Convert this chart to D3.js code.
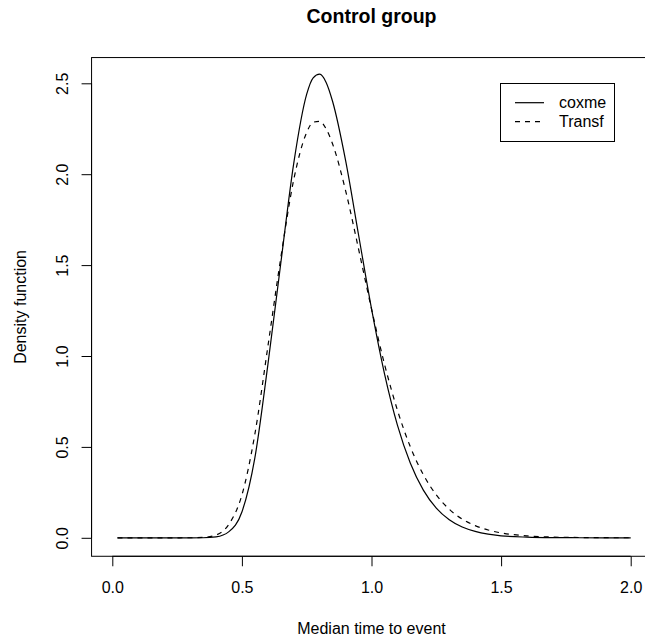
<!DOCTYPE html>
<html lang="en">
<head>
	<meta charset="UTF-8">
	<title>Control group</title>
	<script src="https://cdn.jsdelivr.net/npm/d3@7/dist/d3.min.js"></script>
	<style>
		body { margin: 0; background: #fff; }
		svg { display: block; }
		text { font-family: "Liberation Sans", Arial, Helvetica, sans-serif; fill: #000; }
	</style>
</head>
<body>
	<div id="container"></div>
	<script>
		// data
		var xGrid  = [0.02, 0.1, 0.2, 0.3, 0.35, 0.4, 0.45, 0.5, 0.55, 0.6, 0.65, 0.7, 0.75, 0.775, 0.8, 0.825, 0.85, 0.9, 0.95, 1.0, 1.05, 1.1, 1.15, 1.2, 1.25, 1.3, 1.35, 1.4, 1.45, 1.5, 1.6, 1.7, 1.8, 1.9, 2.0];
		var coxme  = [0, 0, 0, 0, 0.0004, 0.005, 0.034, 0.142, 0.44, 0.95, 1.51, 2.06, 2.44, 2.53, 2.55, 2.505, 2.40, 2.076, 1.667, 1.26, 0.903, 0.62, 0.41, 0.262, 0.163, 0.099, 0.059, 0.035, 0.02, 0.011, 0.0036, 0.001, 0.0003, 0, 0];
		var transf = [0, 0, 0, 0.0003, 0.002, 0.015, 0.075, 0.235, 0.57, 1.05, 1.54, 1.97, 2.23, 2.286, 2.291, 2.249, 2.166, 1.91, 1.589, 1.259, 0.956, 0.702, 0.50, 0.347, 0.236, 0.157, 0.103, 0.067, 0.043, 0.027, 0.0105, 0.004, 0.0015, 0.0005, 0.0002];
		var seriesNames = ["coxme", "Transf"];
		var xTicks = [0, 0.5, 1.0, 1.5, 2.0];
		var yTicks = [0, 0.5, 1.0, 1.5, 2.0, 2.5];

		var width = 645, height = 638;
		var svg = d3.select("#container").append("svg")
				.attr("width", width)
				.attr("height", height);

		var x = d3.scaleLinear().domain([0, 2]).range([112.3, 630.7]);
		var y = d3.scaleLinear().domain([0, 2.5]).range([537.8, 83.3]);

		// R style 4% padding around the data range
		var xLo = -0.08, xHi = 2.08, yLo = -0.1016, yHi = 2.6416;

		// plot box
		svg.append("rect")
				.attr("x", x(xLo))
				.attr("y", y(yHi))
				.attr("width", x(xHi) - x(xLo))
				.attr("height", y(yLo) - y(yHi))
				.attr("fill", "none")
				.attr("stroke", "#000")
				.attr("stroke-width", 1);

		// x axis
		var xAxis = svg.append("g")
				.attr("transform", "translate(0," + y(yLo) + ")")
				.call(d3.axisBottom(x).tickValues(xTicks).tickFormat(d3.format(".1f")).tickSizeOuter(0).tickSizeInner(10).tickPadding(15));
		xAxis.select(".domain").attr("d", "M" + x(0) + ",0H" + x(2)).attr("stroke", "#000");
		xAxis.selectAll("text").attr("font-size", 16);
		xAxis.attr("font-family", null);

		// y axis, labels rotated like R
		var yAxis = svg.append("g")
				.attr("transform", "translate(" + x(xLo) + ",0)")
				.call(d3.axisLeft(y).tickValues(yTicks).tickFormat(d3.format(".1f")).tickSizeOuter(0).tickSizeInner(10));
		yAxis.select(".domain").attr("d", "M0," + y(0) + "V" + y(2.5)).attr("stroke", "#000");
		yAxis.attr("font-family", null);
		yAxis.selectAll("text")
				.attr("font-size", 16)
				.attr("x", null).attr("dy", null)
				.attr("text-anchor", "middle")
				.attr("transform", "translate(-24,0) rotate(-90)");

		// curves
		var line = d3.line()
				.x((d) => { return x(d[0]); })
				.y((d) => { return y(d[1]); })
				.curve(d3.curveMonotoneX);

		var series = [
			{ name: seriesNames[0], values: coxme, dash: null },
			{ name: seriesNames[1], values: transf, dash: "5,5" }
		];

		svg.selectAll(".curve").data(series)
			.enter().append("path")
				.attr("class", "curve")
				.attr("d", (s) => { return line(xGrid.map((v, i) => [v, s.values[i]])); })
				.attr("fill", "none")
				.attr("stroke", "#000")
				.attr("stroke-width", 1.2)
				.attr("stroke-dasharray", (s) => s.dash);

		// legend
		var lg = svg.append("g");
		lg.append("rect")
				.attr("x", 500.5).attr("y", 83.5)
				.attr("width", 114).attr("height", 58)
				.attr("fill", "#fff").attr("stroke", "#000");
		lg.selectAll(".lg-line").data(series)
			.enter().append("line")
				.attr("x1", 515).attr("x2", 544)
				.attr("y1", (d, i) => 102.7 + i * 19)
				.attr("y2", (d, i) => 102.7 + i * 19)
				.attr("stroke", "#000")
				.attr("stroke-width", 1.2)
				.attr("stroke-dasharray", (d) => d.dash);
		lg.selectAll(".lg-text").data(series)
			.enter().append("text")
				.attr("x", 559)
				.attr("y", (d, i) => 102.7 + i * 19)
				.attr("dy", "0.36em")
				.attr("font-size", 16)
				.text((d) => d.name);

		// titles
		var cx = (x(xLo) + x(xHi)) / 2;
		svg.append("text")
				.attr("x", cx).attr("y", 23)
				.attr("text-anchor", "middle")
				.attr("font-size", 19.5)
				.attr("font-weight", "bold")
				.text("Control group");
		svg.append("text")
				.attr("x", cx).attr("y", 634)
				.attr("text-anchor", "middle")
				.attr("font-size", 16)
				.text("Median time to event");
		svg.append("text")
				.attr("transform", "translate(26," + ((y(yLo) + y(yHi)) / 2) + ") rotate(-90)")
				.attr("text-anchor", "middle")
				.attr("font-size", 16)
				.text("Density function");
	</script>
</body>
</html>
